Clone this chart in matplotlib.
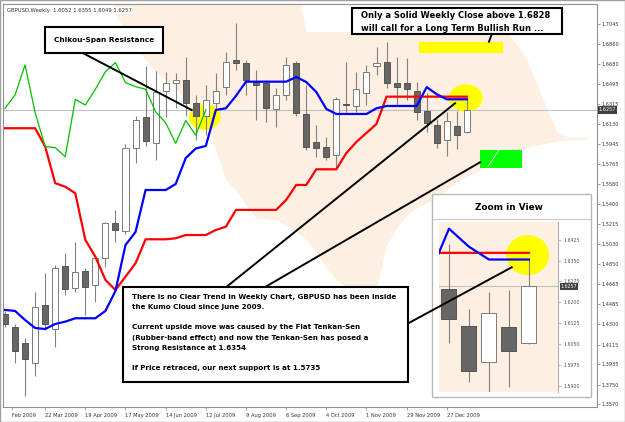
import matplotlib
matplotlib.use("Agg")
import matplotlib.pyplot as plt
from matplotlib.patches import Rectangle, Ellipse
from matplotlib.lines import Line2D

# GBPUSD weekly bars, bar 0 = week of 22 Feb 2009, bar 46 = last (open) week
opens = [1.4394, 1.4278, 1.4127, 1.3944, 1.4476, 1.4255, 1.4832, 1.4629, 1.4787, 1.4659,
         1.4903, 1.5228, 1.5155, 1.5907, 1.6190, 1.5953, 1.6433, 1.6500, 1.6531, 1.6318,
         1.6202, 1.6323, 1.6469, 1.6713, 1.6683, 1.6515, 1.6506, 1.6263, 1.6394, 1.6689,
         1.6220, 1.5967, 1.5922, 1.5846, 1.6312, 1.6293, 1.6409, 1.6658, 1.6698, 1.6506,
         1.6500, 1.6430, 1.6248, 1.6115, 1.5984, 1.6110, 1.6052]
highs = [1.4422, 1.4303, 1.4172, 1.4598, 1.4766, 1.4842, 1.4948, 1.5054, 1.4811, 1.4933,
         1.5237, 1.5344, 1.5946, 1.6202, 1.6658, 1.6616, 1.6606, 1.6595, 1.6743, 1.6394,
         1.6485, 1.6595, 1.6789, 1.7048, 1.6713, 1.6622, 1.6531, 1.6458, 1.6743, 1.6704,
         1.6485, 1.6120, 1.6010, 1.6378, 1.6698, 1.6606, 1.6668, 1.6835, 1.6880, 1.6743,
         1.6731, 1.6515, 1.6410, 1.6175, 1.6236, 1.6244, 1.6355]
lows = [1.4275, 1.3950, 1.3646, 1.3831, 1.4248, 1.4096, 1.4568, 1.4598, 1.4385, 1.4507,
        1.4826, 1.5054, 1.5125, 1.5770, 1.5928, 1.5800, 1.6196, 1.6275, 1.6202, 1.5983,
        1.6028, 1.6257, 1.6394, 1.6622, 1.6394, 1.6165, 1.6150, 1.6104, 1.6348, 1.6202,
        1.5892, 1.5830, 1.5800, 1.5727, 1.6241, 1.6241, 1.6302, 1.6576, 1.6455, 1.6302,
        1.6348, 1.6165, 1.6055, 1.5912, 1.5840, 1.5896, 1.6049]
closes = [1.4303, 1.4059, 1.3986, 1.4455, 1.4303, 1.4811, 1.4622, 1.4780, 1.4643, 1.4903,
          1.5228, 1.5161, 1.5907, 1.6165, 1.5976, 1.6424, 1.6500, 1.6531, 1.6318, 1.6202,
          1.6348, 1.6433, 1.6698, 1.6683, 1.6531, 1.6485, 1.6272, 1.6394, 1.6668, 1.6232,
          1.5922, 1.5913, 1.5830, 1.6354, 1.6302, 1.6446, 1.6606, 1.6689, 1.6506, 1.6469,
          1.6446, 1.6241, 1.6140, 1.5952, 1.6160, 1.6026, 1.6257]

tenkan = [1.4431, 1.4422, 1.4339, 1.4266, 1.4257, 1.4303, 1.4324, 1.4355, 1.4355, 1.4355,
          1.4422, 1.4604, 1.5024, 1.5143, 1.5526, 1.5526, 1.5526, 1.5581, 1.5818, 1.5905,
          1.5928, 1.6257, 1.6272, 1.6385, 1.6515, 1.6515, 1.6515, 1.6515, 1.6515, 1.6558,
          1.6512, 1.6421, 1.6266, 1.6220, 1.6220, 1.6220, 1.6220, 1.6272, 1.6293, 1.6293,
          1.6293, 1.6293, 1.6465, 1.6400, 1.6354, 1.6354, 1.6354]
kijun = [1.6090, 1.6090, 1.6090, 1.6090, 1.5922, 1.5588, 1.5556, 1.5496, 1.5070, 1.4917,
         1.4705, 1.4613, 1.4735, 1.4857, 1.5076, 1.5076, 1.5076, 1.5085, 1.5115, 1.5115,
         1.5115, 1.5161, 1.5191, 1.5344, 1.5344, 1.5344, 1.5344, 1.5344, 1.5435, 1.5572,
         1.5572, 1.5715, 1.5715, 1.5715, 1.5864, 1.5965, 1.6047, 1.6129, 1.6378, 1.6378,
         1.6378, 1.6378, 1.6378, 1.6378, 1.6378, 1.6378, 1.6378]

# kumo (already shifted 26 bars ahead), bars 10..58
kumo_first = 10
kumo_top = [1.7400] * 20 + [1.6972] * 21 + [1.6850, 1.6713, 1.6485, 1.6257, 1.6056, 1.6010, 1.6010, 1.6010]
kumo_bottom = [1.7400, 1.7124, 1.6987, 1.6850, 1.6713, 1.6604, 1.6531, 1.6458, 1.6348, 1.6257,
               1.6147, 1.5892, 1.5618, 1.5526, 1.5389, 1.5271, 1.5262, 1.5252, 1.5207, 1.5143,
               1.5070, 1.4960, 1.4814, 1.4705, 1.4632, 1.4632, 1.4632, 1.4632, 1.5024, 1.5179,
               1.5298, 1.5362, 1.5408, 1.5453, 1.5526, 1.5599, 1.5654, 1.5691, 1.5755, 1.5800,
               1.5846, 1.5892, 1.5910, 1.5937, 1.5955, 1.5974, 1.5983, 1.5983, 1.5992]

date_labels = ["Feb 2009", "22 Mar 2009", "19 Apr 2009", "17 May 2009", "14 Jun 2009", "12 Jul 2009",
               "9 Aug 2009", "6 Sep 2009", "4 Oct 2009", "1 Nov 2009", "29 Nov 2009", "27 Dec 2009"]
date_bars = [0.7, 4, 8, 12, 16, 20, 24, 28, 32, 36, 40, 44]
price_ticks = [1.7045, 1.6860, 1.6680, 1.6495, 1.6315, 1.6130, 1.5945, 1.5765, 1.5580, 1.5400,
               1.5215, 1.5030, 1.4850, 1.4665, 1.4485, 1.4300, 1.4115, 1.3935, 1.3750, 1.3570]
zoom_ticks = [1.5900, 1.5975, 1.6050, 1.6125, 1.6200, 1.6275, 1.6350, 1.6425]

resistance = 1.6828
support = 1.5735

PEACH = "#fdf0e2"
DARK = "#666666"
WICK = "#808080"

W, H = 625, 422
fig = plt.figure(figsize=(W / 100, H / 100), dpi=100)
fig.patch.set_facecolor("white")


def fx(x):
    return x / W


def fy(y):
    return 1 - y / H


def candles(ax, idx, width, lw=0.8):
    for i in idx:
        o, h, l, c = opens[i], highs[i], lows[i], closes[i]
        ax.vlines(i, l, h, color=WICK, lw=lw, zorder=4)
        up = c >= o
        ax.bar(i, max(abs(c - o), 0.0002), bottom=min(o, c), width=width,
               color="white" if up else DARK, edgecolor="#7a7a7a" if up else "#555555",
               lw=0.7, zorder=5)


ax = fig.add_axes([fx(3), fy(407), fx(597) - fx(3), fy(4) - fy(407)])
ax.set_xlim(-0.2, 58.96)
ax.set_ylim(1.3545, 1.7224)

kx = list(range(kumo_first, kumo_first + len(kumo_top)))
ax.fill_between(kx, kumo_bottom, kumo_top, color=PEACH, lw=0, zorder=1)
ax.axhline(closes[-1], color="#c0c0c0", lw=0.8, zorder=2)

# yellow highlights
ax.add_patch(Ellipse((19.9, 1.6193), 3.16, 0.0237, color="#ffff00", lw=0, zorder=3))
ax.add_patch(Ellipse((45.9, 1.6366), 3.36, 0.0249, color="#ffff00", lw=0, zorder=3))
ax.add_patch(Rectangle((41.2, resistance - 0.0048), 8.4, 0.0100, color="#ffff00", lw=0, zorder=3))
ax.add_patch(Rectangle((47.3, support - 0.0005), 4.2, 0.0162, color="#00ff00", lw=0, zorder=3))
ax.plot([48.1, 49.2], [support + 0.0004, support + 0.0157], color="white", lw=0.6, zorder=3)

candles(ax, range(len(opens)), 0.6)

bars = list(range(len(opens)))
ax.plot(bars, kijun, color="#ff0000", lw=1.6, zorder=6)
ax.plot(bars, tenkan, color="#0000ff", lw=1.6, zorder=6)
ax.plot(bars[:len(closes) - 26], closes[26:], color="#00c000", lw=0.9, zorder=6)

for s in ax.spines.values():
    s.set_color("#909090")
    s.set_linewidth(0.8)
ax.yaxis.tick_right()
ax.set_yticks(price_ticks)
ax.set_yticklabels([f"{p:.4f}" for p in price_ticks])
ax.tick_params(axis="y", length=2, width=0.6, colors="#909090", labelcolor="#333333", labelsize=3.6, pad=1.5)
ax.set_xticks(date_bars)
ax.set_xticklabels(date_labels)
for t in ax.get_xticklabels():
    t.set_ha("left")
ax.tick_params(axis="x", length=2, width=0.6, colors="#909090", labelcolor="#333333", labelsize=3.7, pad=2)

# last price tag on the right scale
ax.text(1.003, closes[-1], f"{closes[-1]:.4f}", transform=ax.get_yaxis_transform(), fontsize=3.6,
        color="white", va="center", ha="left", clip_on=False, zorder=10,
        bbox=dict(boxstyle="square,pad=0.25", fc="#404040", ec="none"))
ax.text(0.006, 0.99, f"GBPUSD,Weekly  {opens[-1]:.4f} {highs[-1]:.4f} {lows[-1]:.4f} {closes[-1]:.4f}",
        transform=ax.transAxes, fontsize=3.8, color="#333333", va="top", ha="left", zorder=10,
        bbox=dict(boxstyle="square,pad=0.2", fc="white", ec="none"))

# zoom panel
fig.add_artist(Rectangle((fx(432.3), fy(397.3)), fx(590.7) - fx(432.3), fy(194) - fy(397.3),
                         transform=fig.transFigure, fc="white", ec="#b8b8b8", lw=1.0, zorder=3))
fig.add_artist(Line2D([fx(433), fx(590)], [fy(219), fy(219)], color="#c8c8c8", lw=0.8, zorder=3.1))
fig.text(fx(508.5), fy(207), "Zoom in View", fontsize=6.4, fontweight="bold", ha="center", va="center", zorder=3.2)

ins = fig.add_axes([fx(439), fy(391.7), fx(558.3) - fx(439), fy(222.3) - fy(391.7)])
ins.set_zorder(4)
ins.set_facecolor(PEACH)
ins.set_xlim(41.5, 47.47)
ins.set_ylim(1.5878, 1.6488)
ins.axhline(closes[-1], color="#c0c0c0", lw=0.8, zorder=2)
ins.add_patch(Ellipse((45.94, 1.6370), 2.15, 0.0144, color="#ffff00", lw=0, zorder=3))
candles(ins, range(41, len(opens)), 0.75)
ins.plot(bars, kijun, color="#ff0000", lw=1.6, zorder=6)
ins.plot(bars, tenkan, color="#0000ff", lw=1.6, zorder=6)
for k, s in ins.spines.items():
    s.set_visible(k == "right")
    s.set_color("#b0b0b0")
ins.set_xticks([])
ins.yaxis.tick_right()
ins.set_yticks(zoom_ticks)
ins.set_yticklabels([f"{p:.4f}" for p in zoom_ticks])
ins.tick_params(axis="y", length=2, width=0.6, colors="#b0b0b0", labelcolor="#555555", labelsize=3.4, pad=1.5)
ins.text(1.02, closes[-1], f"{closes[-1]:.4f}", transform=ins.get_yaxis_transform(), fontsize=3.4,
         color="white", va="center", ha="left", clip_on=False, zorder=10,
         bbox=dict(boxstyle="square,pad=0.2", fc="#404040", ec="none"))

# pointer lines
for (x0, y0), (x1, y1) in [((83.3, 53.3), (191.7, 110)), ((491.7, 34.3), (489, 41.7)),
                           ((226.7, 286.7), (455, 103.3)), ((265.7, 286.7), (480, 162.3)),
                           ((408.3, 323.3), (511.7, 267.3))]:
    fig.add_artist(Line2D([fx(x0), fx(x1)], [fy(y0), fy(y1)], color="black", lw=1.4, zorder=5))


def note_box(x0, y0, x1, y1):
    fig.add_artist(Rectangle((fx(x0), fy(y1)), fx(x1) - fx(x0), fy(y0) - fy(y1),
                             transform=fig.transFigure, fc="white", ec="black", lw=1.5, zorder=6))


note_box(45, 27.3, 163.3, 52.7)
fig.text(fx(104), fy(40), "Chikou-Span Resistance", fontsize=5.3, fontweight="bold", ha="center", va="center", zorder=7)

note_box(351.7, 8.3, 561.7, 34.3)
fig.text(fx(361), fy(16), "Only a Solid Weekly Close above 1.6828", fontsize=6.0, fontweight="bold", va="center", zorder=7)
fig.text(fx(361), fy(28.3), "will call for a Long Term Bullish Run ...", fontsize=6.0, fontweight="bold", va="center", zorder=7)

note_box(123.3, 286.7, 408.3, 381.5)
main_lines = [(297.3, "There is no Clear Trend in Weekly Chart, GBPUSD has been inside"),
              (306.7, "the Kumo Cloud since June 2009."),
              (327.3, "Current upside move was caused by the Flat Tenkan-Sen"),
              (337.7, "(Rubber-band effect) and now the Tenkan-Sen has posed a"),
              (347.7, "Strong Resistance at 1.6354"),
              (368.3, "If Price retraced, our next support is at 1.5735")]
for yy, txt in main_lines:
    fig.text(fx(131.7), fy(yy), txt, fontsize=5.1, fontweight="bold", va="center", zorder=7)

# outer frame of the screenshot
fig.add_artist(Rectangle((0, 0), 1, 1, transform=fig.transFigure, fc="none", ec="#a0a0a0", lw=1.0, zorder=8))

fig.savefig("out.png", dpi=100)
